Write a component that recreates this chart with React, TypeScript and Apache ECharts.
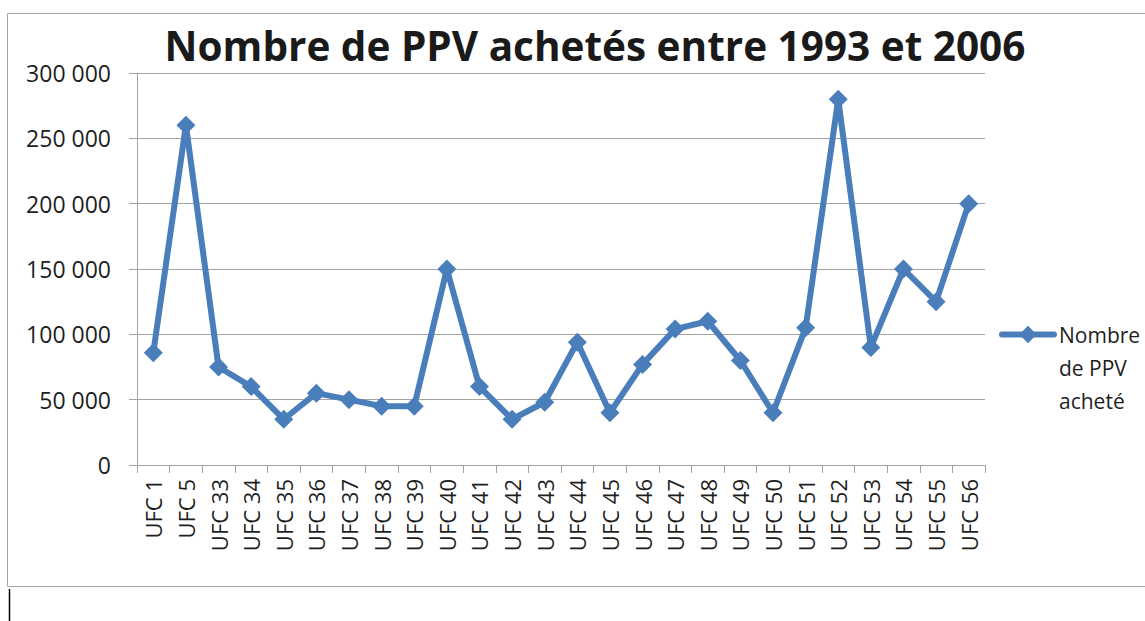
import React, { useEffect, useRef } from "react";
import * as echarts from "echarts";

const categories = [
  "UFC 1", "UFC 5", "UFC 33", "UFC 34", "UFC 35", "UFC 36", "UFC 37", "UFC 38", "UFC 39",
  "UFC 40", "UFC 41", "UFC 42", "UFC 43", "UFC 44", "UFC 45", "UFC 46", "UFC 47", "UFC 48",
  "UFC 49", "UFC 50", "UFC 51", "UFC 52", "UFC 53", "UFC 54", "UFC 55", "UFC 56",
];
const ppvValues = [
  86000, 260000, 75000, 60000, 35000, 55000, 50000, 45000, 45000,
  150000, 60000, 35000, 48000, 94000, 40000, 77000, 104000, 110000,
  80000, 40000, 105000, 280000, 90000, 150000, 125000, 200000,
];
const seriesName = "Nombre de PPV acheté";
const titleText = "Nombre de PPV achetés entre 1993 et 2006";

const FONT = "'Open Sans', 'Liberation Sans', sans-serif";
const BLUE = "#4a7ebb";
const GRID = "#a3a3a3";
const TEXT = "#1e1e1e";

export default function App() {
  const ref = useRef<HTMLDivElement>(null);
  useEffect(() => {
    if (!ref.current) return;
    const chart = echarts.init(ref.current, null, { renderer: "svg" });
    chart.setOption({
      animation: false,
      backgroundColor: "#ffffff",
      title: {
        text: titleText,
        left: 590,
        textAlign: "center",
        top: 20,
        textStyle: { fontFamily: FONT, fontWeight: "bold", fontSize: 40.5, color: "#1a1a1a" },
      },
      grid: { left: 137, right: 160, top: 73, bottom: 156 },
      legend: {
        data: [seriesName],
        left: 994,
        top: 247,
        itemWidth: 52,
        itemHeight: 22,
        itemGap: 4,
        formatter: () => "\n\nNombre\nde PPV\nacheté",
        lineStyle: { width: 6, cap: "round", color: BLUE },
        textStyle: {
          fontFamily: FONT,
          fontSize: 21,
          color: TEXT,
          lineHeight: 33,
        },
      },
      xAxis: {
        type: "category",
        data: categories,
        boundaryGap: true,
        axisLine: { lineStyle: { color: GRID, width: 1 } },
        axisTick: { show: true, length: 8, lineStyle: { color: GRID } },
        axisLabel: {
          rotate: 90,
          interval: 0,
          margin: 14,
          fontFamily: FONT,
          fontSize: 22,
          color: TEXT,
        },
      },
      yAxis: {
        type: "value",
        min: 0,
        max: 300000,
        interval: 50000,
        axisLine: { show: true, lineStyle: { color: GRID, width: 1 } },
        axisTick: { show: true, length: 8, lineStyle: { color: GRID } },
        splitLine: { lineStyle: { color: GRID, width: 1 } },
        axisLabel: {
          margin: 26,
          fontFamily: FONT,
          fontSize: 23,
          color: TEXT,
          formatter: (v: number) => String(v).replace(/\B(?=(\d{3})+(?!\d))/g, " "),
        },
      },
      series: [
        {
          name: seriesName,
          type: "line",
          data: ppvValues,
          symbol: "diamond",
          symbolSize: 19,
          showAllSymbol: true,
          lineStyle: { color: BLUE, width: 6, cap: "round" },
          itemStyle: { color: BLUE },
        },
      ],
      graphic: [
        {
          type: "rect",
          shape: { x: 7.5, y: 13.5, width: 1150, height: 573 },
          style: { fill: "none", stroke: GRID, lineWidth: 1 },
          silent: true,
        },
        {
          type: "line",
          shape: { x1: 9.5, y1: 589, x2: 9.5, y2: 621 },
          style: { stroke: "#000000", lineWidth: 1.5 },
          silent: true,
        },
      ],
    });
    return () => chart.dispose();
  }, []);
  return (
    <div
      ref={ref}
      style={{ position: "absolute", left: 0, top: 0, width: 1145, height: 621 }}
    />
  );
}
